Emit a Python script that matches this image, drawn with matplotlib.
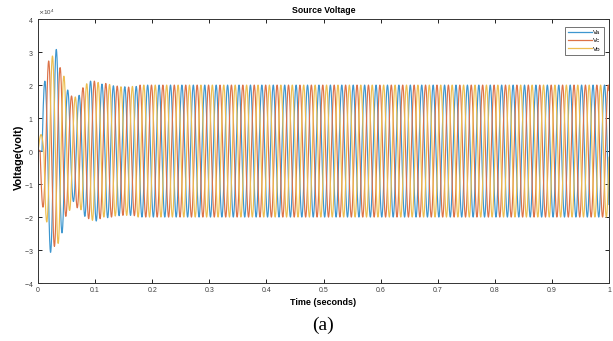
import numpy as np
import matplotlib
matplotlib.use("Agg")
import matplotlib.pyplot as plt
from matplotlib.ticker import ScalarFormatter

# ---------------- data ----------------
freq_hz = 50.0
t_end = 1.0
steady_amp = 2.0e4          # steady-state peak voltage (V)
unit = 1.0e4                # extrema below are in units of 1e4 V

# time of the first half-cycle extremum of each phase (s)
va_first_t = 0.002
vc_first_t = -0.0013
vb_first_t = -0.0047

# signed half-cycle extrema during the start-up transient (x1e4 V)
va_extrema = [0.0, 2.12, -3.07, 3.08, -2.48, 1.85, -1.53, 1.69, -1.98, 2.12,
              -2.12, 2.03, -2.02, 1.98, -1.96, 1.95, -1.95, 1.96]
vc_extrema = [0.05, -1.70, 2.73, -2.89, 2.53, -1.98, 1.67, -1.72, 1.92, -2.05,
              2.12, -2.05, 2.05, -2.00, 1.97, -1.95, 1.94, -1.96]
vb_extrema = [-0.10, 0.50, -2.15, 2.88, -2.80, 2.27, -1.80, 1.64, -1.78, 2.04,
              -2.10, 2.08, -2.00, 2.02, -1.97, 1.95, -1.95, 1.96]

series_labels = ["Va", "Vc", "Vb"]
x_ticks = [0, 0.1, 0.2, 0.3, 0.4, 0.5, 0.6, 0.7, 0.8, 0.9, 1.0]
x_tick_labels = ["0", "0.1", "0.2", "0.3", "0.4", "0.5", "0.6", "0.7", "0.8", "0.9", "1"]
y_ticks = [-4e4, -3e4, -2e4, -1e4, 0, 1e4, 2e4, 3e4, 4e4]


def phase_wave(t, first_t, extrema):
    half = 0.5 / freq_hz
    k = np.round((t - first_t) / half).astype(int)
    n = len(extrema)
    last_sign = np.sign(extrema[-1])
    amps = np.empty_like(t)
    for i, ki in enumerate(k):
        if ki < 0:
            amps[i] = 0.0
        elif ki < n:
            amps[i] = extrema[ki] * unit
        else:
            amps[i] = last_sign * ((-1) ** (ki - (n - 1))) * steady_amp
    tk = first_t + k * half
    return amps * np.cos(2 * np.pi * freq_hz * (t - tk))


t = np.linspace(0, t_end, 20001)
va = phase_wave(t, va_first_t, va_extrema)
vc = phase_wave(t, vc_first_t, vc_extrema)
vb = phase_wave(t, vb_first_t, vb_extrema)

# ---------------- plot ----------------
plt.rcParams['font.family'] = ['Liberation Sans', 'DejaVu Sans']
plt.rcParams['axes.unicode_minus'] = False
fig = plt.figure(figsize=(6.13, 3.41), dpi=100)
ax = fig.add_axes([0.062, 0.170, 0.9315, 0.774])

colors = ["#3D96CF", "#DC7248", "#EDBE50"]
for y, lab, c in zip([va, vc, vb], series_labels, colors):
    ax.plot(t, y, color=c, lw=0.85, label=lab)

ax.set_xlim(0, 1)
ax.set_ylim(-4e4, 4e4)
ax.set_xticks(x_ticks)
ax.set_xticklabels(x_tick_labels)
ax.set_yticks(y_ticks)
fmt = ScalarFormatter(useMathText=True)
fmt.set_powerlimits((0, 0))
ax.yaxis.set_major_formatter(fmt)
ax.yaxis.get_offset_text().set_fontsize(4.5)
ax.yaxis.get_offset_text().set_color("#404040")

ax.tick_params(direction="in", length=3, width=0.6, labelsize=5,
               labelcolor="#404040", top=True, right=True, pad=3)
for s in ax.spines.values():
    s.set_linewidth(0.7)
    s.set_color("#333333")

ax.set_title("Source Voltage", fontsize=6.3, fontweight="bold", pad=4.5)
ax.set_xlabel("Time (seconds)", fontsize=6.5, fontweight="bold", labelpad=3)
fig.text(19 / 613, 1 - 157 / 341, "Voltage(volt)", fontsize=7.8,
         fontweight="bold", rotation=90, ha="center", va="center")

leg = ax.legend(loc="upper right", bbox_to_anchor=(604 / 613, 1 - 26.7 / 341),
                bbox_transform=fig.transFigure, borderaxespad=0,
                fontsize=4.5, handlelength=3.8,
                frameon=True, fancybox=False, borderpad=0.5,
                labelspacing=0.45, handletextpad=0.25)
leg.get_frame().set_linewidth(0.6)
leg.get_frame().set_edgecolor("#333333")
for line in leg.get_lines():
    line.set_linewidth(0.9)

fig.text(0.527, 0.045, "(a)", fontsize=14, family=["Liberation Serif"],
         ha="center", va="center")

fig.savefig("out.png", dpi=100)
